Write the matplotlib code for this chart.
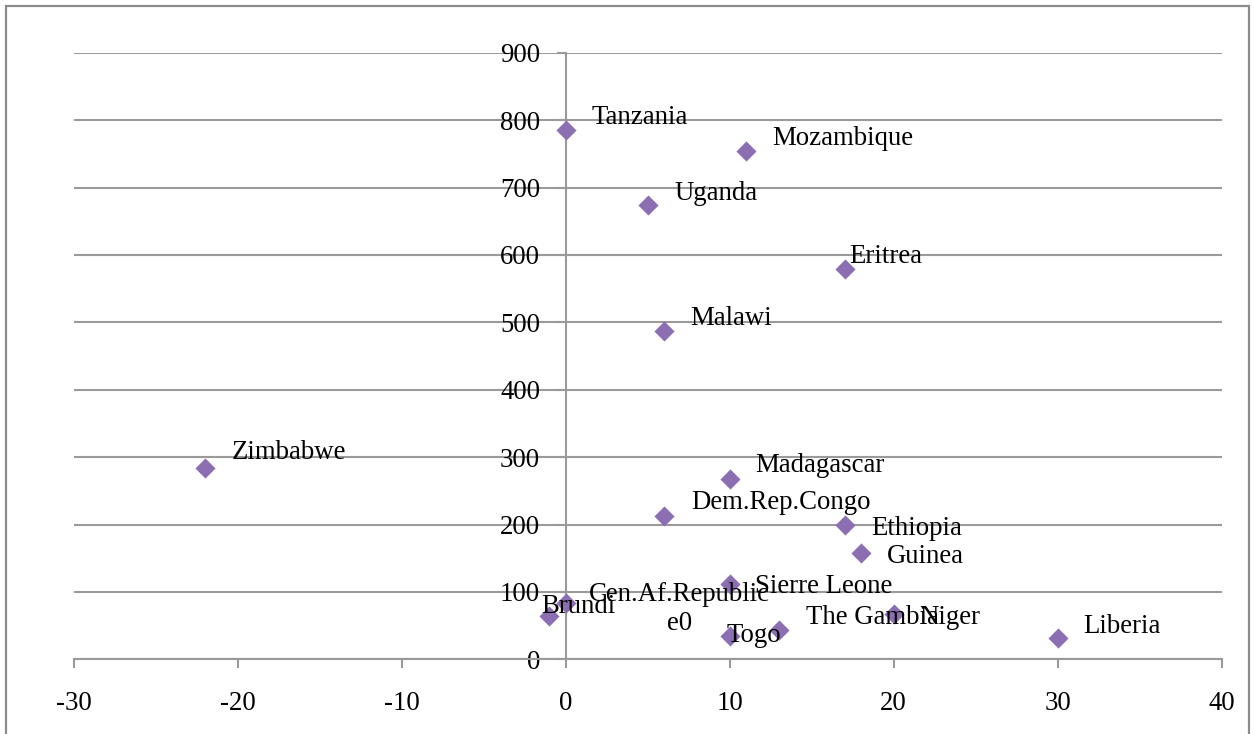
import matplotlib.pyplot as plt
from matplotlib.patches import Rectangle

# data
countries = ["Tanzania", "Mozambique", "Uganda", "Eritrea", "Malawi", "Zimbabwe",
             "Madagascar", "Dem.Rep.Congo", "Ethiopia", "Guinea", "Sierre Leone",
             "Cen.Af.Republic\ne0", "Brundi", "Togo", "The Gambia", "Niger", "Liberia"]
x_vals = [0, 11, 5, 17, 6, -22, 10, 6, 17, 18, 10, 0, -1, 10, 13, 20, 30]
y_vals = [785, 754, 674, 579, 487, 284, 268, 212, 200, 157, 112, 84, 64, 35, 43, 67, 32]

x_ticks = [-30, -20, -10, 0, 10, 20, 30, 40]
y_ticks = [0, 100, 200, 300, 400, 500, 600, 700, 800, 900]

# label placement (pixels from the marker), as dragged in the original
label_offsets = {
    "Tanzania": (26, 13), "Mozambique": (26, 13), "Uganda": (27, 12),
    "Eritrea": (5, 13), "Malawi": (26, 13), "Zimbabwe": (27, 15),
    "Madagascar": (26, 13), "Dem.Rep.Congo": (27, 14), "Ethiopia": (27, -4),
    "Guinea": (26, -3), "Sierre Leone": (25, -3), "Cen.Af.Republic\ne0": (114, -6),
    "Brundi": (-8, 10), "Togo": (-3, 0), "The Gambia": (27, 13),
    "Niger": (26, -3), "Liberia": (26, 11),
}

W, H = 1254, 734
grey = "#9a9a9a"
purple = "#8b6fb2"
font = "Liberation Serif"
fs = 19.3

plt.rcParams['font.family'] = [font, 'DejaVu Serif']
plt.rcParams['axes.unicode_minus'] = False

fig = plt.figure(figsize=(W / 100, H / 100), dpi=100)
fig.patches.append(Rectangle((6 / W, -0.05), 1243 / W, 1 - 6 / H + 0.05,
                             transform=fig.transFigure, fill=False,
                             edgecolor="#8c8c8c", linewidth=1.6))

ax = fig.add_axes([73.7 / W, (H - 659.3) / H, (1221.7 - 73.7) / W, (659.3 - 52.7) / H])
ax.set_xlim(-30, 40)
ax.set_ylim(0, 900)

ax.scatter(x_vals, y_vals, marker="D", s=105, color=purple, zorder=3, linewidths=0)

for name, x, y in zip(countries, x_vals, y_vals):
    dx, dy = label_offsets[name]
    ha = "center" if "\n" in name else "left"
    ax.annotate(name, (x, y), xytext=(dx, dy), textcoords="offset pixels",
                ha=ha, va="center", fontsize=fs, linespacing=1.2, zorder=4)

for s in ["top", "right"]:
    ax.spines[s].set_visible(False)
ax.spines["left"].set_position(("data", 0))
ax.spines["bottom"].set_position(("data", 0))
for s in ["left", "bottom"]:
    ax.spines[s].set_color(grey)
    ax.spines[s].set_linewidth(1.5)

ax.set_xticks(x_ticks)
ax.set_yticks(y_ticks)
ax.tick_params(axis="x", length=6.5, width=1.5, color=grey, pad=16.5, labelsize=fs)
ax.tick_params(axis="y", length=6.5, width=1.5, color=grey, pad=12, labelsize=fs)
ax.yaxis.grid(True, color=grey, linewidth=1.5)
ax.set_axisbelow(True)

fig.savefig("out.png", dpi=100)
